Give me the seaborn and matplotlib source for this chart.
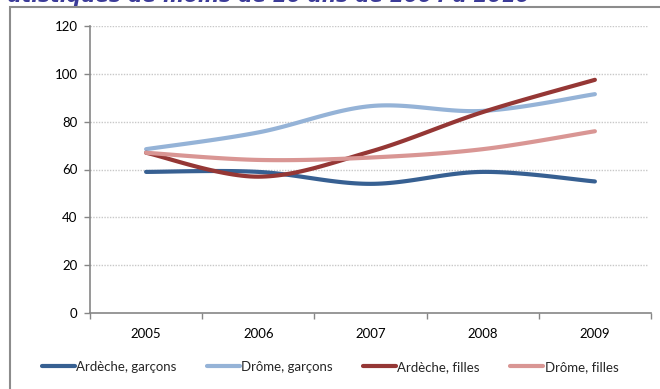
import numpy as np
import pandas as pd
import matplotlib
matplotlib.use("Agg")
import matplotlib.pyplot as plt
import seaborn as sns
from matplotlib.patches import Rectangle

years = ["2005", "2006", "2007", "2008", "2009"]
ardeche_garcons = [59, 59, 54, 59, 55]
drome_garcons = [68.5, 75.5, 86.5, 84.5, 91.5]
ardeche_filles = [67, 57, 67.5, 84, 97.5]
drome_filles = [67, 64, 65, 68.5, 76]
series_names = ["Ardèche, garçons", "Drôme, garçons", "Ardèche, filles", "Drôme, filles"]
colors = ["#376092", "#95B3D7", "#953735", "#D99694"]

sns.set_theme(style="white")
plt.rcParams["font.family"] = ["Lato", "DejaVu Sans"]

def smooth(xs, ys, n=30):
    # Excel-like smoothed line (Bezier with Catmull-Rom tangents)
    P = np.column_stack([xs, ys]).astype(float)
    m = len(P)
    out = []
    for i in range(m - 1):
        p0 = P[i - 1] if i > 0 else P[i]
        p1, p2 = P[i], P[i + 1]
        p3 = P[i + 2] if i + 2 < m else P[i + 1]
        c1 = p1 + (p2 - p0) / 6.0
        c2 = p2 - (p3 - p1) / 6.0
        t = np.linspace(0, 1, n)[:, None]
        seg = ((1 - t) ** 3) * p1 + 3 * ((1 - t) ** 2) * t * c1 + 3 * (1 - t) * t ** 2 * c2 + t ** 3 * p2
        out.append(seg if i == 0 else seg[1:])
    s = np.vstack(out)
    return s[:, 0], s[:, 1]

fig = plt.figure(figsize=(6.6, 3.89), dpi=100)
ax = fig.add_axes([90 / 660, 1 - 313 / 389, 561 / 660, (313 - 26) / 389])

xpos = np.arange(len(years))
rows = []
for name, vals in zip(series_names, [ardeche_garcons, drome_garcons, ardeche_filles, drome_filles]):
    sx, sy = smooth(xpos, vals)
    for a, b in zip(sx, sy):
        rows.append({"x": a, "y": b, "serie": name})
df = pd.DataFrame(rows)

sns.lineplot(data=df, x="x", y="y", hue="serie", palette=colors, hue_order=series_names,
             sort=False, estimator=None, linewidth=3.0, ax=ax, legend=False,
             solid_capstyle="round")

ax.set_xlim(-0.5, 4.5)
ax.set_ylim(0, 120)
ax.set_yticks(np.arange(0, 121, 20))
ax.set_yticklabels([str(v) for v in range(0, 121, 20)], fontsize=9.5, color="#000000")
ax.set_xticks(xpos)
ax.set_xticklabels(years, fontsize=9.5, color="#000000")
ax.set_xticks(np.arange(-0.5, 4.6, 1), minor=True)
ax.tick_params(axis="x", which="major", length=0, pad=11)
ax.tick_params(axis="x", which="minor", length=4, width=1, color="#868686", direction="out", bottom=True)
ax.tick_params(axis="y", which="major", length=4, width=1, color="#868686", direction="out", left=True, pad=5)
ax.set_xlabel("")
ax.set_ylabel("")
for y in range(20, 121, 20):
    ax.axhline(y, color="#C8C8C8", linewidth=1, linestyle=(0, (1, 1)), zorder=0, xmax=0.995)
for s in ["top", "right"]:
    ax.spines[s].set_visible(False)
for s in ["left", "bottom"]:
    ax.spines[s].set_color("#868686")
    ax.spines[s].set_linewidth(1.2)

handles = [plt.Line2D([0], [0], color=c, linewidth=3.0, solid_capstyle="round") for c in colors]
fig.legend(handles, series_names, loc="center", bbox_to_anchor=(0.5, 1 - 367 / 389), ncol=4,
           frameon=False, fontsize=9.5, handlelength=2.5, handletextpad=0.1, columnspacing=2.3)

# outer chart border
fig.patches.append(Rectangle((10 / 660, -0.05), 1.0, 1 - 7 / 389 + 0.05, transform=fig.transFigure,
                             fill=False, edgecolor="#8C8C8C", linewidth=1.5))
# cut-off title above
fig.text(8 / 660, 1 + 4.5 / 389, "atistiques de moins de 20 ans de 2004 à 2010", transform=fig.transFigure,
         ha="left", va="center", fontsize=14.5, fontweight="bold", fontstyle="italic", color="#3B3B98",
         family="DejaVu Sans")

fig.savefig("out.png", dpi=100)
